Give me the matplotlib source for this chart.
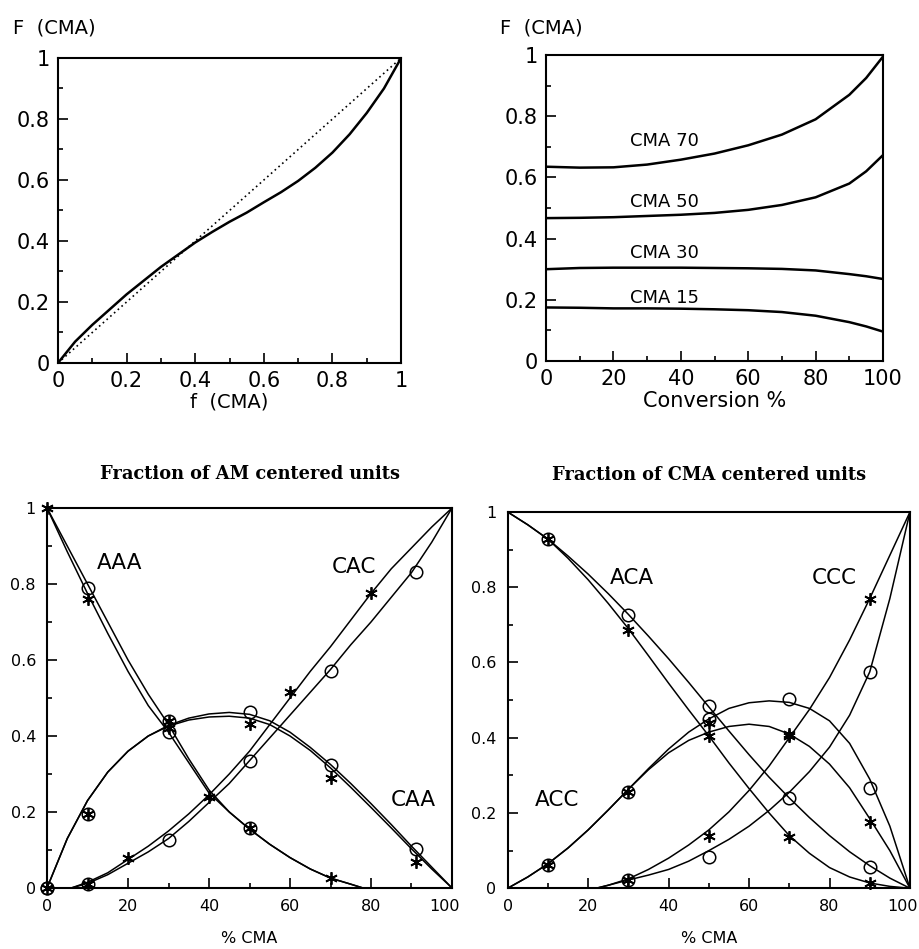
import matplotlib
matplotlib.use("Agg")
import matplotlib.pyplot as plt
from matplotlib.ticker import MultipleLocator, FuncFormatter
from matplotlib.transforms import ScaledTranslation

# ---- top left: copolymer composition F vs feed f ----
feed_f = [0, 0.05, 0.1, 0.15, 0.2, 0.25, 0.3, 0.35, 0.4, 0.45, 0.5,
          0.55, 0.6, 0.65, 0.7, 0.75, 0.8, 0.85, 0.9, 0.95, 1.0]
copol_F = [0, 0.07, 0.125, 0.175, 0.225, 0.27, 0.315, 0.355, 0.395, 0.43, 0.463,
           0.493, 0.527, 0.56, 0.597, 0.64, 0.69, 0.75, 0.82, 0.9, 1.0]
diag = [0, 1]

# ---- top right: F vs conversion ----
conv = [0, 10, 20, 30, 40, 50, 60, 70, 80, 90, 95, 100]
cma70 = [0.635, 0.632, 0.633, 0.642, 0.658, 0.678, 0.705, 0.74, 0.79, 0.87, 0.925, 0.995]
cma50 = [0.467, 0.468, 0.47, 0.474, 0.478, 0.484, 0.494, 0.51, 0.535, 0.58, 0.62, 0.673]
cma30 = [0.30, 0.304, 0.305, 0.305, 0.305, 0.304, 0.303, 0.301, 0.296, 0.284, 0.277, 0.268]
cma15 = [0.175, 0.174, 0.172, 0.172, 0.171, 0.169, 0.166, 0.16, 0.148, 0.127, 0.113, 0.096]
conv_curves = [(cma70, "CMA 70", 0.72), (cma50, "CMA 50", 0.52),
               (cma30, "CMA 30", 0.352), (cma15, "CMA 15", 0.207)]

# ---- bottom left: AM centered triads ----
aaa_x = [0, 5, 10, 15, 20, 25, 30, 35, 40, 45, 50, 55, 60, 65, 70, 75, 78]
aaa_o = [1, 0.9, 0.8, 0.7, 0.6, 0.51, 0.43, 0.34, 0.258, 0.2, 0.155, 0.115, 0.08, 0.05, 0.026, 0.01, 0]
aaa_s = [1, 0.885, 0.775, 0.67, 0.57, 0.48, 0.41, 0.33, 0.25, 0.2, 0.155, 0.115, 0.08, 0.05, 0.026, 0.01, 0]

caa_x = [0, 5, 10, 15, 20, 25, 30, 35, 40, 45, 50, 55, 60, 65, 70, 75, 80, 85, 90, 95, 100]
caa_o = [0, 0.13, 0.23, 0.305, 0.36, 0.4, 0.428, 0.447, 0.458, 0.462, 0.457, 0.44, 0.41,
         0.37, 0.325, 0.275, 0.222, 0.167, 0.11, 0.055, 0]
caa_s = [0, 0.13, 0.23, 0.305, 0.36, 0.4, 0.426, 0.442, 0.45, 0.452, 0.447, 0.43, 0.4,
         0.362, 0.316, 0.265, 0.212, 0.158, 0.103, 0.05, 0]

cac_x = [6, 10, 15, 20, 25, 30, 35, 40, 45, 50, 55, 60, 65, 70, 75, 80, 85, 90, 95, 100]
cac_s = [0, 0.015, 0.04, 0.075, 0.11, 0.15, 0.195, 0.245, 0.3, 0.36, 0.43, 0.5, 0.57,
         0.635, 0.705, 0.775, 0.84, 0.895, 0.95, 1.0]
cac_o = [0, 0.012, 0.035, 0.065, 0.095, 0.13, 0.175, 0.225, 0.275, 0.335, 0.395, 0.455,
         0.515, 0.575, 0.64, 0.7, 0.765, 0.83, 0.91, 1.0]

# measured points, circles and stars
am_circ_x = [0, 10, 30, 50,   0, 10, 30, 50, 70, 91,   10, 30, 50, 70, 91]
am_circ_y = [0, 0.79, 0.41, 0.157,   0, 0.195, 0.44, 0.464, 0.324, 0.102,
             0.01, 0.125, 0.334, 0.572, 0.832]
am_star_x = [0, 10, 30, 50, 70,   0, 10, 30, 50, 70, 91,   10, 20, 40, 60, 80]
am_star_y = [1, 0.76, 0.42, 0.157, 0.025,   0, 0.195, 0.44, 0.432, 0.289, 0.069,
             0.01, 0.078, 0.24, 0.517, 0.776]

# ---- bottom right: CMA centered triads ----
aca_x = [0, 5, 10, 15, 20, 25, 30, 35, 40, 45, 50, 55, 60, 65, 70, 75, 80, 85, 90, 95, 100]
aca_o = [1, 0.966, 0.928, 0.883, 0.835, 0.783, 0.728, 0.67, 0.61, 0.547, 0.482, 0.418,
         0.355, 0.295, 0.24, 0.188, 0.14, 0.097, 0.06, 0.027, 0]
aca_s = [1, 0.966, 0.928, 0.877, 0.82, 0.757, 0.69, 0.618, 0.545, 0.474, 0.405, 0.333,
         0.265, 0.2, 0.14, 0.093, 0.055, 0.03, 0.014, 0.005, 0]

acc_x = [0, 5, 10, 15, 20, 25, 30, 35, 40, 45, 50, 55, 60, 65, 70, 75, 80, 85, 90, 95, 100]
acc_o = [0, 0.03, 0.065, 0.107, 0.155, 0.208, 0.263, 0.318, 0.37, 0.415, 0.45, 0.478,
         0.493, 0.498, 0.494, 0.478, 0.445, 0.385, 0.29, 0.165, 0]
acc_s = [0, 0.03, 0.065, 0.107, 0.155, 0.208, 0.263, 0.315, 0.36, 0.393, 0.415, 0.43,
         0.436, 0.43, 0.41, 0.377, 0.33, 0.267, 0.185, 0.1, 0]

ccc_x = [22, 25, 30, 35, 40, 45, 50, 55, 60, 65, 70, 75, 80, 85, 90, 95, 100]
ccc_s = [0, 0.008, 0.025, 0.05, 0.08, 0.115, 0.155, 0.203, 0.26, 0.325, 0.4, 0.475,
         0.56, 0.66, 0.77, 0.885, 1.0]
ccc_o = [0, 0.008, 0.022, 0.035, 0.05, 0.072, 0.1, 0.13, 0.165, 0.207, 0.255, 0.31,
         0.375, 0.46, 0.575, 0.77, 1.0]

cm_circ_x = [10, 30, 50, 70, 90,   10, 30, 50, 70, 90,   30, 50, 90]
cm_circ_y = [0.928, 0.726, 0.484, 0.239, 0.057,   0.062, 0.257, 0.451, 0.502, 0.266,
             0.022, 0.082, 0.575]
cm_star_x = [10, 30, 50, 70, 90,   10, 30, 50, 70, 90,   30, 50, 70, 90]
cm_star_y = [0.928, 0.686, 0.404, 0.137, 0.013,   0.062, 0.257, 0.438, 0.41, 0.177,
             0.022, 0.139, 0.404, 0.77]

fmt = FuncFormatter(lambda v, p: f"{v:g}")
STAR = (6, 2, 0)


def style(ax, xmaj, xmin, size, pad):
    ax.xaxis.set_major_locator(MultipleLocator(xmaj))
    ax.xaxis.set_minor_locator(MultipleLocator(xmin))
    ax.yaxis.set_major_locator(MultipleLocator(0.2))
    ax.yaxis.set_minor_locator(MultipleLocator(0.1))
    ax.xaxis.set_major_formatter(fmt)
    ax.yaxis.set_major_formatter(fmt)
    ax.tick_params(which="both", direction="in", top=False, right=False,
                   labelsize=size, pad=pad, width=1.2)
    ax.tick_params(which="major", length=7)
    ax.tick_params(which="minor", length=3.5)
    for s in ax.spines.values():
        s.set_linewidth(1.5)


def nudge_last_xlabel(ax, dx_px):
    # the "100" label sits a little to the left of its tick in the original
    ax.set_xticks([0, 20, 40, 60, 80, 100])
    labs = ax.get_xticklabels()
    labs[-1].set_transform(labs[-1].get_transform()
                           + ScaledTranslation(dx_px / 100, 0, fig.dpi_scale_trans))


plt.rcParams["font.family"] = "DejaVu Sans"
fig = plt.figure(figsize=(9.2, 9.49), dpi=100)

# top left
ax1 = fig.add_axes([0.063, 0.6175, 0.373, 0.3214])
ax1.plot(feed_f, copol_F, color="black", lw=1.8)
ax1.plot(diag, diag, color="black", lw=1.2, ls=(0, (1, 2)))
ax1.set_xlim(0, 1)
ax1.set_ylim(0, 1)
style(ax1, 0.2, 0.1, 15, 6)
ax1.set_xlabel("f  (CMA)", fontsize=14, labelpad=1)
fig.text(0.014, 0.9705, "F  (CMA)", fontsize=14, va="center", ha="left")

# top right
ax2 = fig.add_axes([0.5935, 0.6196, 0.3663, 0.3224])
for vals, lab, ypos in conv_curves:
    ax2.plot(conv, vals, color="black", lw=1.8)
    ax2.text(25, ypos, lab, fontsize=13, va="center", ha="left")
ax2.set_xlim(0, 100)
ax2.set_ylim(0, 1)
style(ax2, 20, 10, 15, 6)
ax2.set_xlabel("Conversion %", fontsize=15, labelpad=1)
fig.text(0.5435, 0.9705, "F  (CMA)", fontsize=14, va="center", ha="left")

# bottom left
ax3 = fig.add_axes([0.0511, 0.0643, 0.4402, 0.4004])
for xs, ys in [(aaa_x, aaa_o), (aaa_x, aaa_s), (caa_x, caa_o), (caa_x, caa_s),
               (cac_x, cac_o), (cac_x, cac_s)]:
    ax3.plot(xs, ys, color="black", lw=1.1)
ax3.plot(am_circ_x, am_circ_y, ls="none", marker="o", ms=9, mfc="none",
         mec="black", mew=1.1, clip_on=False)
ax3.plot(am_star_x, am_star_y, ls="none", marker=STAR, ms=9, mec="black",
         mew=1.3, clip_on=False)
ax3.text(12.4, 0.854, "AAA", fontsize=15.5, va="center", ha="left")
ax3.text(70.3, 0.846, "CAC", fontsize=15.5, va="center", ha="left")
ax3.text(84.8, 0.232, "CAA", fontsize=15.5, va="center", ha="left")
ax3.set_xlim(0, 100)
ax3.set_ylim(0, 1)
style(ax3, 20, 10, 11.5, 8)
nudge_last_xlabel(ax3, -7)
ax3.set_xlabel("% CMA", fontsize=11.5, labelpad=12)
ax3.set_title("Fraction of AM centered units", fontsize=12.8, fontweight="bold",
              family="DejaVu Serif", pad=21)

# bottom right
ax4 = fig.add_axes([0.5518, 0.064, 0.4373, 0.3965])
for xs, ys in [(aca_x, aca_o), (aca_x, aca_s), (acc_x, acc_o), (acc_x, acc_s),
               (ccc_x, ccc_o), (ccc_x, ccc_s)]:
    ax4.plot(xs, ys, color="black", lw=1.1)
ax4.plot(cm_circ_x, cm_circ_y, ls="none", marker="o", ms=9, mfc="none",
         mec="black", mew=1.1, clip_on=False)
ax4.plot(cm_star_x, cm_star_y, ls="none", marker=STAR, ms=9, mec="black",
         mew=1.3, clip_on=False)
ax4.text(25.4, 0.824, "ACA", fontsize=15.5, va="center", ha="left")
ax4.text(75.6, 0.824, "CCC", fontsize=15.5, va="center", ha="left")
ax4.text(6.8, 0.234, "ACC", fontsize=15.5, va="center", ha="left")
ax4.set_xlim(0, 100)
ax4.set_ylim(0, 1)
style(ax4, 20, 10, 11.5, 8)
nudge_last_xlabel(ax4, -7)
ax4.set_xlabel("% CMA", fontsize=11.5, labelpad=12)
ax4.set_title("Fraction of CMA centered units", fontsize=12.8, fontweight="bold",
              family="DejaVu Serif", pad=23)

fig.savefig("out.png", dpi=100)
